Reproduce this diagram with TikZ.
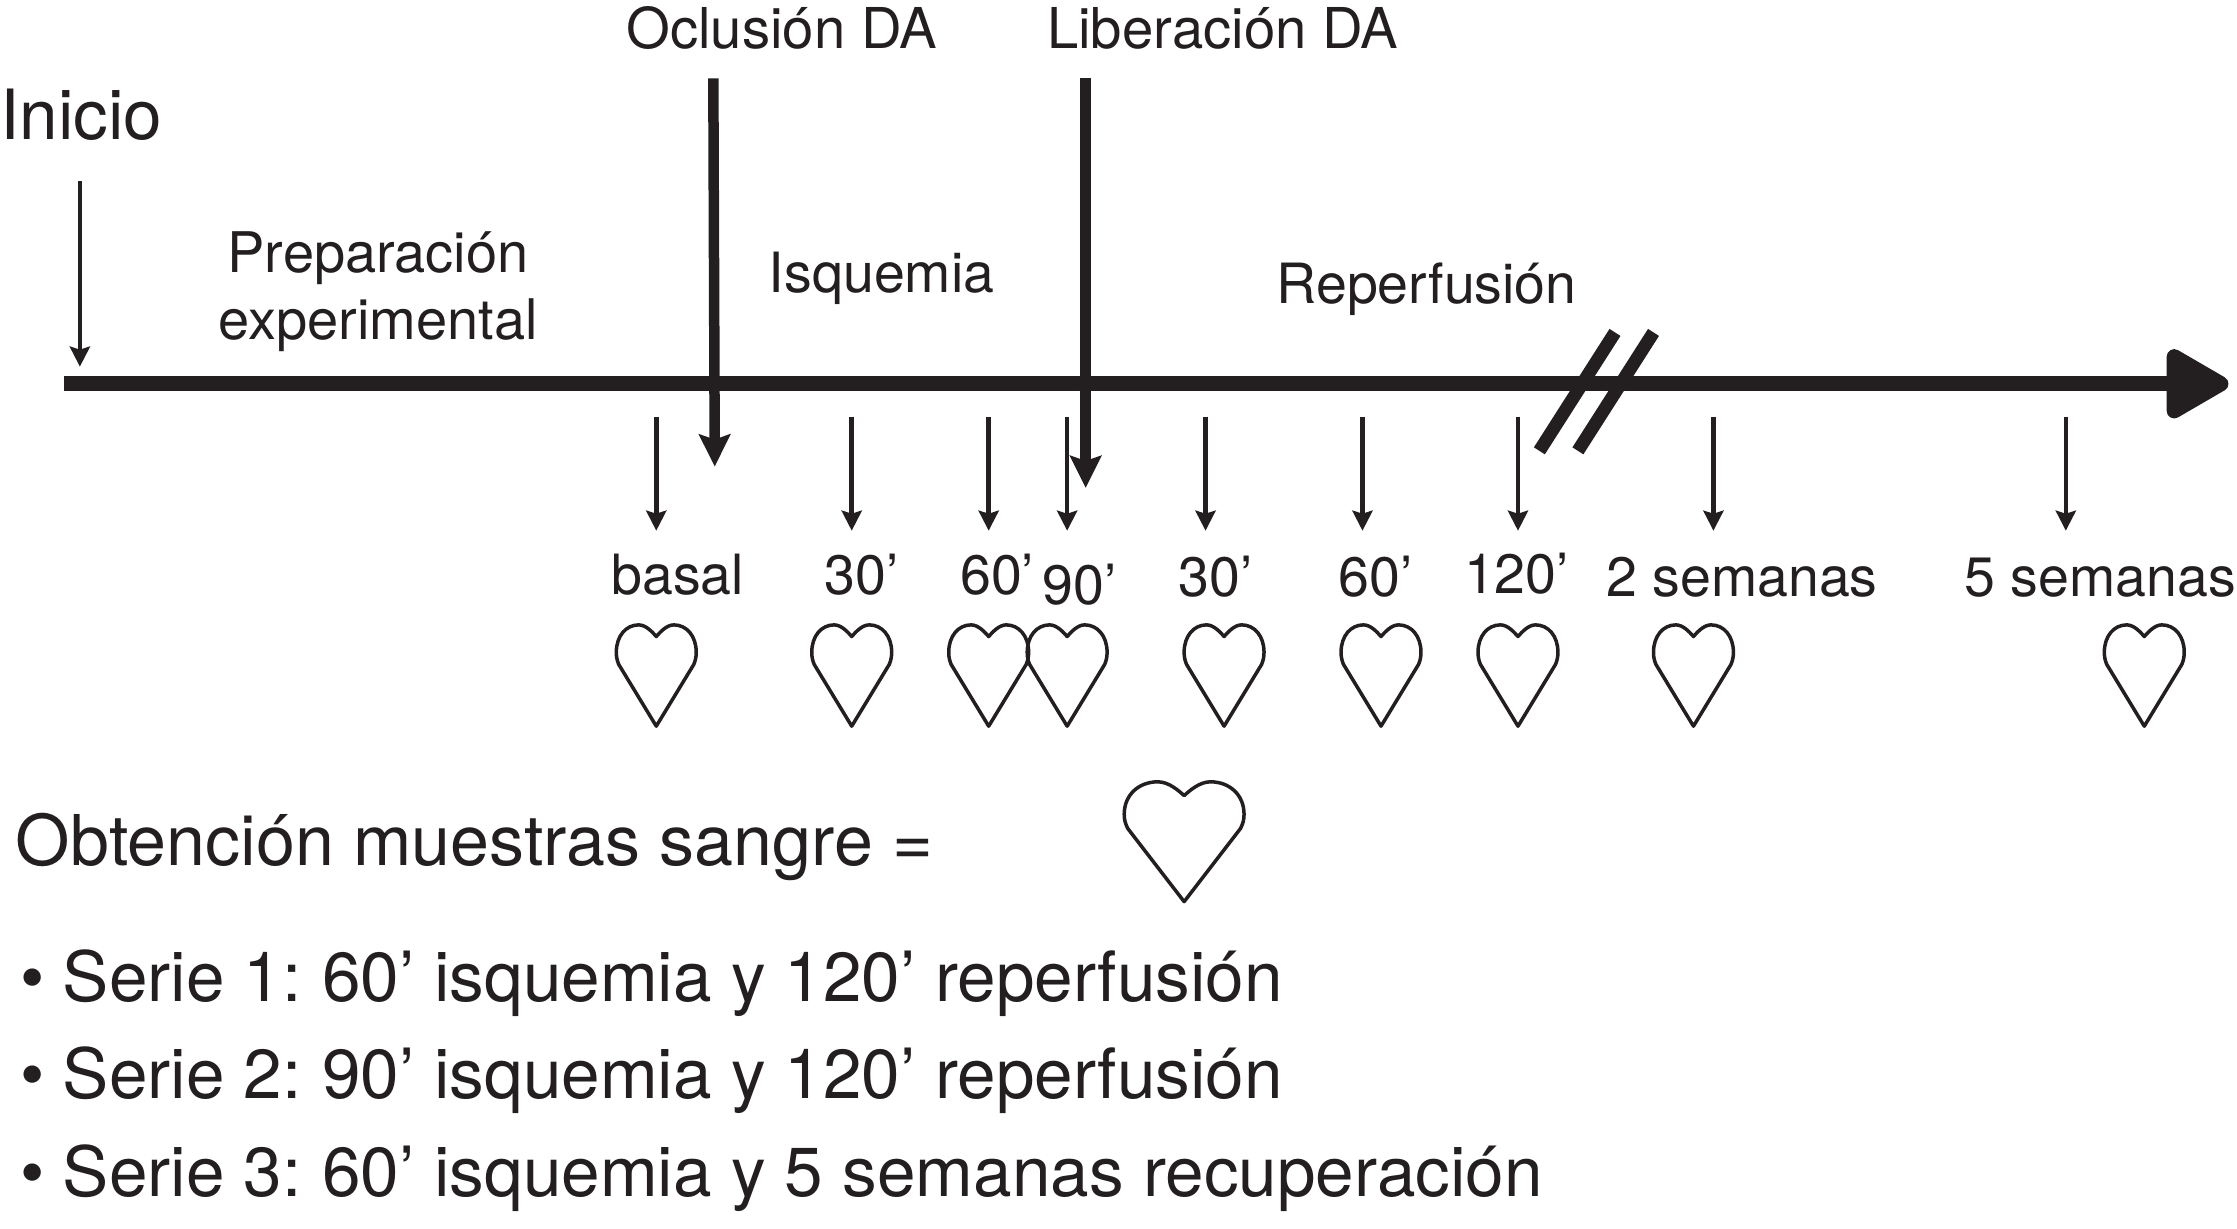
\documentclass[tikz,border=0pt]{standalone}
\usepackage{fontspec}
\setmainfont{TeX Gyre Heros}
\usetikzlibrary{arrows.meta}
\definecolor{ink}{HTML}{231F20}
\newcommand{\fsz}[1]{\fontsize{#1}{#1}\selectfont}
\tikzset{
  x=1.4267pt,y=-1.4267pt,
  txt/.style={inner sep=0pt,anchor=base,text=ink},
  lab/.style={txt,font=\fsz{55.5}},
  labb/.style={txt,font=\fsz{56}},
  head/.style={txt,font=\fsz{56.3}},
  big/.style={txt,anchor=base west,font=\fsz{69.3}},
  bigger/.style={txt,anchor=base west,font=\fsz{70}},
  axisline/.style={draw=ink,line width=15pt,-{Triangle[length=70pt,width=76pt,round]}},
  thickarrow/.style={draw=ink,line width=10.5pt,-{Stealth[length=32pt,width=31pt,inset=5pt]}},
  thinarrow/.style={draw=ink,line width=4.5pt,-{Stealth[length=20pt,width=20pt,inset=3pt]}},
  breakmark/.style={draw=ink,line width=13pt},
  heartshape/.style={draw=ink,line width=3.5pt,line join=round},
  pics/heartpic/.style n args={2}{code={
    \path[heartshape,x=#1*1.4267pt,y=-#2*1.4267pt]
      (0,0.115) .. controls (-0.05,0.07) and (-0.13,0) .. (-0.22,0)
      .. controls (-0.38,0) and (-0.5,0.11) .. (-0.5,0.27)
      .. controls (-0.5,0.32) and (-0.49,0.35) .. (-0.47,0.39)
      -- (0,1) -- (0.47,0.39)
      .. controls (0.49,0.35) and (0.5,0.32) .. (0.5,0.27)
      .. controls (0.5,0.11) and (0.38,0) .. (0.22,0)
      .. controls (0.13,0) and (0.05,0.07) .. (0,0.115) -- cycle;
  }},
}
\begin{document}
\begin{tikzpicture}
\useasboundingbox (0,0) rectangle (1568,861);
% coordinates
\coordinate (axisA) at (45,269);
\coordinate (axisB) at (1562,269);
\coordinate (inicioA) at (56,127);
\coordinate (inicioB) at (56,257);
\coordinate (ocA) at (500,55);
\coordinate (ocB) at (501,327);
\coordinate (liA) at (761,55);
\coordinate (liB) at (761,342);
\coordinate (br1A) at (1079,316);
\coordinate (br1B) at (1132,233);
\coordinate (br2A) at (1106,316);
\coordinate (br2B) at (1159,233);
\foreach \n/\xx in {a/460,b/597,c/693,d/748,e/845,f/955,g/1064,h/1201,i/1448}{
  \coordinate (s\n A) at (\xx,292);
  \coordinate (s\n B) at (\xx,372);
  \draw[thinarrow] (s\n A) -- (s\n B);
}
% connectors
\draw[thinarrow] (inicioA) -- (inicioB);
\draw[thickarrow] (ocA) -- (ocB);
\draw[thickarrow] (liA) -- (liB);
\draw[axisline] (axisA) -- (axisB);
\draw[breakmark] (br1A) -- (br1B);
\draw[breakmark] (br2A) -- (br2B);
% top labels
\node[head] (oclusion) at (548,34) {Oclusión DA};
\node[head] (liberacion) at (857,34) {Liberación DA};
\node[big,anchor=base] (inicio) at (57,98) {Inicio};
\node[labb] (prep1) at (265,191) {Preparación};
\node[labb] (prep2) at (265,238) {experimental};
\node[lab] (isq) at (618,205) {Isquemia};
\node[lab] (rep) at (1000,213) {Reperfusión};
% time labels
\node[lab] (tbasal) at (475,417) {basal};
\node[lab] (t30a) at (604,417) {30’};
\node[lab] (t60a) at (699,417) {60’};
\node[lab] (t90) at (757,424) {90’};
\node[lab] (t30b) at (852,418) {30’};
\node[lab] (t60b) at (964,418) {60’};
\node[lab] (t120) at (1063,416) {120’};
\node[lab] (t2s) at (1221,418) {2 semanas};
\node[lab] (t5s) at (1472,418) {5 semanas};
% hearts
\foreach \xx in {460,597,693,748,858,968,1064,1187,1503}{
  \path (\xx,438) pic {heartpic={56}{71}};
}
\path (830,548) pic {heartpic={84}{84}};
% bottom text
\node[bigger] (obt) at (11,607) {Obtención muestras sangre =};
\node[big] (b1) at (14,702) {•};
\node[big] (s1) at (44,702) {Serie 1:\kern-5pt{} 60’ isquemia y 120’ reperfusión};
\node[big] (b2) at (14,770) {•};
\node[big] (s2) at (44,770) {Serie 2:\kern-5pt{} 90’ isquemia y 120’ reperfusión};
\node[big] (b3) at (14,839) {•};
\node[big] (s3) at (44,839) {Serie 3:\kern-5pt{} 60’ isquemia y 5 semanas recuperación};
\end{tikzpicture}
\end{document}
